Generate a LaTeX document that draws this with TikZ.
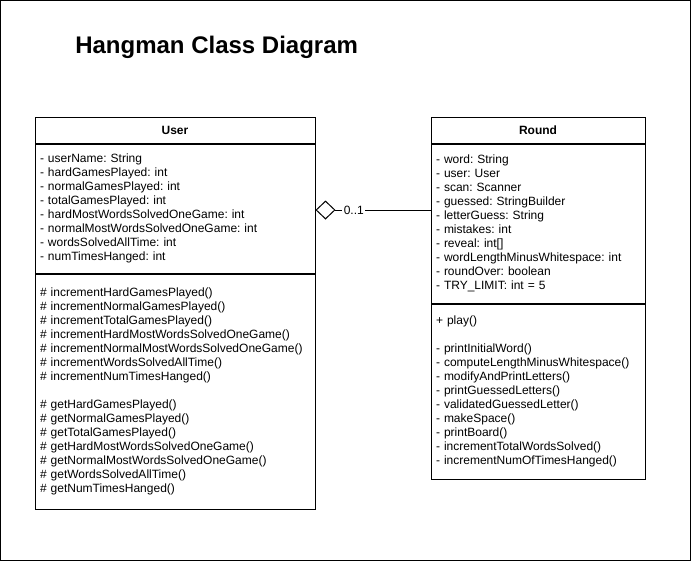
\documentclass[tikz,border=0pt]{standalone}
\usepackage{fontspec}
\setmainfont{Liberation Sans}
\usetikzlibrary{positioning,arrows.meta}
\frenchspacing

\begin{document}
\begin{tikzpicture}[x=0.75pt,y=-0.75pt,
  classhead/.style={draw,line width=0.75pt,font=\fontsize{9}{10.5}\selectfont\bfseries,minimum height=19.5pt,inner sep=0pt},
  compart/.style={draw,line width=0.75pt,font=\fontsize{9}{10.5}\selectfont,align=left,inner xsep=3.75pt,inner ysep=0pt},
  mult/.style={font=\fontsize{9}{10.5}\selectfont,fill=white,inner sep=1pt}]

\useasboundingbox (0,0) rectangle (691,561);
\draw[line width=0.75pt] (0.5,0.5) rectangle (690.5,560.5);

% Title
\node[font=\fontsize{18}{21}\selectfont\bfseries,anchor=west,inner sep=0pt] (title) at (75,47) {Hangman Class Diagram};

% User class
\node[classhead,minimum width=210pt] (userHead) at (175,130) {User};
\node[compart,text width=202.5pt,minimum height=96.75pt,below=0pt of userHead] (userAttr) {
  - userName: String\\
  - hardGamesPlayed: int\\
  - normalGamesPlayed: int\\
  - totalGamesPlayed: int\\
  - hardMostWordsSolvedOneGame: int\\
  - normalMostWordsSolvedOneGame: int\\
  - wordsSolvedAllTime: int\\
  - numTimesHanged: int};
\node[compart,text width=202.5pt,minimum height=176.25pt,below=0pt of userAttr] (userOps) {
  \# incrementHardGamesPlayed()\\
  \# incrementNormalGamesPlayed()\\
  \# incrementTotalGamesPlayed()\\
  \# incrementHardMostWordsSolvedOneGame()\\
  \# incrementNormalMostWordsSolvedOneGame()\\
  \# incrementWordsSolvedAllTime()\\
  \# incrementNumTimesHanged()\\[10.5pt]
  \# getHardGamesPlayed()\\
  \# getNormalGamesPlayed()\\
  \# getTotalGamesPlayed()\\
  \# getHardMostWordsSolvedOneGame()\\
  \# getNormalMostWordsSolvedOneGame()\\
  \# getWordsSolvedAllTime()\\
  \# getNumTimesHanged()};

% Round class
\node[classhead,minimum width=160.5pt] (roundHead) at (538,130) {Round};
\node[compart,text width=153pt,minimum height=119.25pt,below=0pt of roundHead] (roundAttr) {
  - word: String\\
  - user: User\\
  - scan: Scanner\\
  - guessed: StringBuilder\\
  - letterGuess: String\\
  - mistakes: int\\
  - reveal: int[]\\
  - wordLengthMinusWhitespace: int\\
  - roundOver: boolean\\
  - TRY\_LIMIT: int = 5};
\node[compart,text width=153pt,minimum height=131.25pt,below=0pt of roundAttr] (roundOps) {
  + play()\\[10.5pt]
  - printInitialWord()\\
  - computeLengthMinusWhitespace()\\
  - modifyAndPrintLetters()\\
  - printGuessedLetters()\\
  - validatedGuessedLetter()\\
  - makeSpace()\\
  - printBoard()\\
  - incrementTotalWordsSolved()\\
  - incrementNumOfTimesHanged()};

% Aggregation
\coordinate (lvl) at (0,210);
\draw[line width=0.75pt,{Diamond[open,length=15pt,width=14.25pt]}-] (userAttr.east |- lvl) -- (roundAttr.west |- lvl)
  node[mult,pos=0.23,anchor=west] (multUser) {0..1};

\end{tikzpicture}
\end{document}
